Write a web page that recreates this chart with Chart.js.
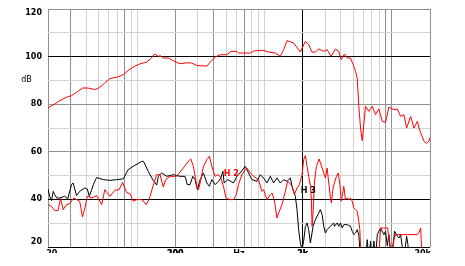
<!DOCTYPE html>
<html>
<head>
<meta charset="utf-8">
<script src="https://cdn.jsdelivr.net/npm/chart.js@4"></script>
<style>
  html, body { margin: 0; padding: 0; background: #fff; }
  #clip { width: 465px; height: 253px; overflow: hidden; }
  #box { position: relative; width: 465px; height: 262px; }
</style>
</head>
<body>
<div id="clip"><div id="box"><canvas id="chart"></canvas></div></div>
<script>
// fundamental (red)
var fundFreq = [20, 22.6, 24.7, 27.9, 30.6, 33.5, 37.3, 41.3, 47.2, 51.1, 55.9, 61.2, 69.1, 77.9, 85.3, 93.4, 105, 119, 130, 138, 147, 152, 161, 176, 199, 218, 246, 269, 295, 354, 375, 411, 450, 508, 546, 609, 627, 775, 833, 987, 1080, 1219, 1335, 1417, 1507, 1650, 1699, 1861, 1918, 2100, 2230, 2371, 2518, 2673, 2927, 3112, 3346, 3618, 3842, 4013, 4261, 4475, 4751, 4989, 5202, 5364, 5522, 5695, 5873, 6234, 6618, 7038, 7471, 7931, 8435, 8955, 9506, 10409, 11071, 11753, 12477, 13104, 14094, 14963, 15915, 16383, 16898, 17940, 18900, 19640, 20000];
var fundDb = [78.4, 80.1, 81.5, 82.9, 83.6, 85.0, 86.8, 86.8, 86.1, 87.2, 88.9, 90.8, 91.3, 92.4, 94.2, 95.6, 96.9, 97.7, 99.4, 101.1, 100.1, 100.4, 99.4, 99.4, 97.9, 97.0, 97.4, 97.3, 96.3, 96.0, 97.6, 99.8, 100.8, 100.8, 102.2, 102.2, 101.5, 101.5, 102.4, 102.6, 101.9, 101.5, 100.1, 102.9, 106.7, 106.0, 105.7, 102.9, 101.9, 106.4, 105.0, 101.9, 101.9, 103.2, 102.2, 102.9, 100.1, 103.2, 102.2, 98.7, 101.1, 99.4, 99.4, 96.6, 93.8, 91.0, 79.1, 70.0, 64.6, 79.1, 77.0, 79.1, 75.6, 78.0, 72.8, 72.4, 78.8, 77.7, 78.0, 74.9, 75.6, 70.0, 74.9, 70.0, 72.8, 70.0, 68.0, 64.4, 63.5, 64.5, 66.0];

// 2nd harmonic (red)
var h2Freq = [20, 21.3, 22.6, 24.0, 25.1, 26.3, 27.9, 29.6, 31.9, 35.5, 37.3, 39.0, 40.7, 44.1, 48.2, 52.8, 55.9, 61.2, 67.0, 72.4, 77.0, 82.8, 88.0, 93.4, 99.5, 109.3, 118.2, 125.6, 134.2, 142.8, 151.6, 160.9, 168, 181.7, 205.1, 231.2, 253.2, 264.4, 277.2, 294.9, 304.1, 313.1, 332.4, 353.5, 370.5, 386.9, 410.9, 436.2, 455.7, 477.5, 500.9, 532.8, 572.4, 601.4, 626.8, 666.8, 707.7, 729.8, 775.2, 822.8, 901.2, 957.8, 986, 1017, 1049, 1114, 1148, 1197, 1257, 1295, 1377, 1462, 1524, 1583, 1651, 1721, 1806, 1885, 1978, 2036, 2100, 2166, 2230, 2300, 2342, 2371, 2415, 2473, 2564, 2626, 2693, 2757, 2843, 2927, 3018, 3113, 3205, 3305, 3365, 3446, 3553, 3685, 3801, 3922, 4014, 4087, 4208, 4339, 4474, 4607, 4751, 4900, 5044, 5201, 5364, 5523, 5624, 5695, 5900, 7900, 8181, 8600, 9300, 9600, 10000, 10415, 10740, 15900, 16384, 16898, 17300, 20000];
var h2Db = [37.8, 37.1, 35.3, 35.3, 40.6, 35.7, 37.8, 38.2, 40.6, 39.2, 32.6, 36.4, 41.3, 40.6, 41.6, 37.8, 44.1, 41.3, 43.8, 44.1, 47.1, 42.9, 42.4, 39.2, 39.9, 39.9, 37.8, 40.6, 46.0, 50.4, 50.4, 45.2, 48.3, 49.7, 49.7, 53.2, 56.0, 57.0, 53.9, 45.5, 44.1, 46.9, 53.9, 56.7, 58.1, 53.9, 49.7, 50.4, 49.0, 45.5, 40.6, 39.9, 39.9, 42.0, 46.2, 50.4, 52.5, 53.2, 51.1, 49.7, 48.3, 43.4, 44.1, 42.0, 39.9, 42.0, 42.7, 39.9, 32.2, 34.3, 37.8, 43.4, 47.6, 46.9, 45.5, 42.0, 44.8, 46.2, 50.4, 56.7, 58.4, 53.9, 49.7, 45.5, 39.9, 28.7, 34.3, 46.9, 53.9, 55.3, 57.0, 55.3, 53.2, 51.1, 49.0, 53.2, 46.9, 40.6, 38.5, 44.1, 46.9, 49.7, 51.1, 46.2, 39.2, 41.3, 45.5, 39.9, 40.6, 39.9, 40.6, 39.2, 36.4, 35.7, 35.0, 30.8, 27.3, 20.3, 15, 15, 28.0, 28.0, 28.0, 22, 15, 23, 25.2, 25.2, 26, 28.0, 15, 15];

// 3rd harmonic (black)
var h3Freq = [20, 20.6, 21.3, 22.0, 22.6, 23.4, 24.7, 27.0, 28.6, 30.6, 31.5, 33.5, 35.5, 38.9, 40.7, 42.2, 44.1, 45.4, 48.2, 54.3, 61.2, 69.1, 77.9, 85.3, 93.4, 109.3, 112.4, 122.6, 126.4, 134.2, 142.8, 147, 156.3, 171.1, 192.9, 217.8, 238.4, 248.6, 261, 274.2, 285.8, 298.2, 313.1, 332.4, 353.5, 370.5, 386.9, 410.9, 436.2, 455.7, 472.5, 483.6, 517, 572, 620, 646.2, 707.7, 751.4, 799.3, 874.8, 928.8, 986, 1049, 1114, 1182, 1257, 1335, 1417, 1507, 1601, 1651, 1752, 1806, 1860, 1918, 1978, 2036, 2100, 2166, 2230, 2300, 2415, 2518, 2673, 2757, 2843, 2927, 3018, 3113, 3305, 3509, 3553, 3731, 3842, 3963, 4087, 4208, 4474, 4751, 4900, 5044, 5201, 5364, 5523, 5695, 6235, 6430, 6620, 6827, 7041, 7248, 7474, 7708, 8181, 8686, 8957, 9236, 9511, 9936, 10548, 11075, 11404, 11756, 12481, 13107, 13422, 13666, 20000];
var h3Db = [44.4, 41.3, 39.5, 43.4, 42.0, 40.6, 40.6, 41.3, 40.3, 46.2, 46.9, 41.6, 43.4, 44.8, 44.4, 41.3, 44.1, 46.2, 49.2, 48.3, 48.0, 48.3, 48.6, 52.5, 53.9, 56.0, 56.0, 51.8, 50.4, 48.0, 46.0, 49.7, 51.1, 49.7, 50.4, 49.7, 49.7, 46.2, 46.2, 49.7, 48.3, 44.1, 48.3, 51.1, 46.9, 45.5, 48.3, 46.2, 47.6, 49.0, 51.8, 46.9, 48.3, 46.9, 50.4, 51.1, 53.9, 51.1, 48.3, 47.6, 50.4, 49.0, 46.9, 49.7, 46.9, 49.0, 46.9, 48.3, 47.6, 49.0, 45.5, 41.3, 35.7, 27.3, 21.7, 19, 22.5, 28.6, 30.1, 27.3, 21.7, 28.7, 31.5, 34.3, 35.7, 33.6, 28.7, 25.9, 27.3, 28.7, 30.1, 28.7, 30.1, 28.7, 30.1, 28.0, 29.4, 29.4, 28.7, 26.6, 25.2, 25.9, 27.3, 25.2, 15, 15, 23.1, 15, 22.4, 15, 22.5, 15, 25.2, 28.0, 25.2, 26.6, 20.5, 25.2, 15, 26.6, 24.5, 23.8, 25.2, 15, 24.5, 21, 15, 15];

// axes
var xGridValues = [20, 30, 40, 50, 60, 70, 80, 90, 100, 200, 300, 400, 500, 600, 700, 800, 900, 1000, 2000, 3000, 4000, 5000, 6000, 7000, 8000, 9000, 10000, 20000];
var xLabelValues = [21.4, 200, 631, 2000, 17520];
var xLabelText = ['20', '200', 'Hz', '2k', '20k'];
var yGridValues = [20, 25, 30, 35, 40, 45, 50, 55, 60, 65, 70, 75, 80, 85, 90, 95, 100, 105, 110, 115, 120];
var yLabelValues = [120, 100, 90, 80, 60, 40, 20];
var yLabelText = ['120', '100', 'dB', '80', '60', '40', '20'];

var seriesTags = ['H 2', 'H 3'];
var tagFreq = [549, 2218];
var tagDb = [50.8, 43.7];

var xDark = [20, 30, 80, 200, 400, 700, 9000, 10000, 20000];
var yDark = [60, 80, 120];
var yBlack = [20, 40, 100];

function pts(f, d) { return f.map(function (v, i) { return { x: v, y: d[i] }; }); }

function xColor(v) {
  if (xGridValues.indexOf(v) < 0) return 'rgba(0,0,0,0)';
  if (v === 2000) return '#000000';
  return xDark.indexOf(v) >= 0 ? '#909090' : '#d2d2d2';
}
function yColor(v) {
  if (yBlack.indexOf(v) >= 0) return '#000000';
  return yDark.indexOf(v) >= 0 ? '#909090' : '#d2d2d2';
}

var tagPlugin = {
  id: 'tags',
  afterDatasetsDraw: function (chart) {
    var ctx = chart.ctx, x = chart.scales.x, y = chart.scales.y;
    ctx.save();
    ctx.font = 'bold 8px "DejaVu Sans"';
    ctx.textAlign = 'center';
    ctx.textBaseline = 'middle';
    seriesTags.forEach(function (t, i) {
      ctx.fillStyle = i === 0 ? '#ff0000' : '#000000';
      ctx.fillText(t, x.getPixelForValue(tagFreq[i]), y.getPixelForValue(tagDb[i]));
    });
    ctx.restore();
  }
};

Chart.defaults.font.family = '"DejaVu Sans", sans-serif';

var ctx = document.getElementById('chart');
var chart = new Chart(ctx, {
  type: 'line',
  data: {
    datasets: [
      { data: pts(fundFreq, fundDb), borderColor: '#ff0000', borderWidth: 1 },
      { data: pts(h2Freq, h2Db), borderColor: '#ff0000', borderWidth: 1 },
      { data: pts(h3Freq, h3Db), borderColor: '#000000', borderWidth: 1 }
    ]
  },
  options: {
    responsive: true,
    maintainAspectRatio: false,
    animation: false,
    elements: { point: { radius: 0 }, line: { tension: 0 } },
    layout: { padding: { top: 9, right: 35, left: 0, bottom: 0 } },
    plugins: { legend: { display: false }, tooltip: { enabled: false } },
    scales: {
      x: {
        type: 'logarithmic',
        min: 20,
        max: 20000,
        afterBuildTicks: function (axis) {
          axis.ticks = xGridValues.concat(xLabelValues)
            .sort(function (a, b) { return a - b; })
            .map(function (v) { return { value: v }; });
        },
        afterFit: function (axis) {
          axis.height = 15;
          axis.paddingLeft = axis.paddingRight = axis.paddingTop = axis.paddingBottom = 0;
        },
        border: { display: false },
        grid: { drawTicks: false, color: function (c) { return xColor(c.tick.value); } },
        ticks: {
          autoSkip: false,
          maxRotation: 0,
          padding: 2,
          color: '#000',
          font: { size: 8, weight: 'bold' },
          callback: function (v) {
            var i = xLabelValues.indexOf(v);
            return i >= 0 ? xLabelText[i] : '';
          }
        }
      },
      y: {
        min: 20,
        max: 120,
        afterBuildTicks: function (axis) {
          axis.ticks = yGridValues.map(function (v) { return { value: v }; });
        },
        afterFit: function (axis) {
          axis.width = 48;
          axis.paddingLeft = axis.paddingRight = axis.paddingTop = axis.paddingBottom = 0;
        },
        border: { display: false },
        grid: { drawTicks: false, color: function (c) { return yColor(c.tick.value); } },
        ticks: {
          padding: 6,
          color: '#000',
          font: function (c) {
            var v = c.tick ? c.tick.value : 0;
            if (v === 90) return { size: 8, weight: 'normal' };
            if (v === 120) return { size: 8, weight: 'bold', lineHeight: 1 };
            if (v === 20) return { size: 8, weight: 'bold', lineHeight: 1.25 };
            return { size: 8, weight: 'bold' };
          },
          callback: function (v) {
            var i = yLabelValues.indexOf(v);
            if (i < 0) return '';
            var t = yLabelText[i];
            if (v === 120) return ['', t];
            if (v === 20) return [t, ''];
            if (v === 90) return t + '    ';
            return t;
          }
        }
      }
    }
  },
  plugins: [tagPlugin]
});
</script>
</body>
</html>
